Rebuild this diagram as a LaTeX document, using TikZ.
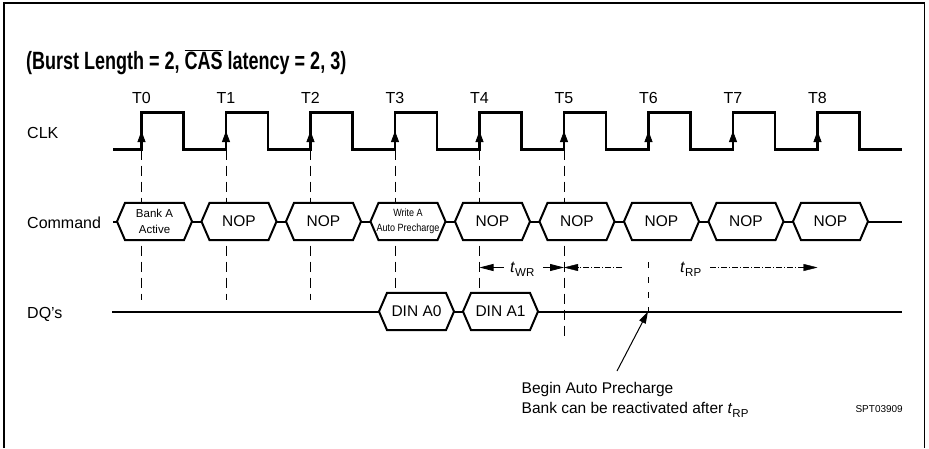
\documentclass[tikz,border=0pt]{standalone}
\usepackage{fontspec}
\setmainfont{Liberation Sans}
\newfontfamily\titlefont[FakeStretch=0.72]{Liberation Sans}
\newfontfamily\narrowfont[FakeStretch=0.86]{Liberation Sans}
\usetikzlibrary{arrows.meta}
\tikzset{
  sig/.style={line width=2.2pt, line join=miter},
  busline/.style={line width=2pt, line join=miter},
  guide/.style={line width=0.6pt, dash pattern=on 10pt off 6pt},
  dotguide/.style={line width=0.5pt, dash pattern=on 6pt off 9pt},
  edgearrow/.style={-{Triangle[length=11pt,width=8pt]}, line width=0.8pt},
  dim/.style={-{Triangle[length=14pt,width=7pt]}, line width=0.8pt},
  dimdash/.style={-{Triangle[length=14pt,width=7pt]}, line width=0.4pt, dash pattern=on 6pt off 2pt on 1pt off 2pt},
  lbl/.style={font=\fontsize{16}{19}\selectfont, inner sep=0pt, anchor=base west},
  ticklbl/.style={font=\fontsize{16}{19}\selectfont, inner sep=0pt, anchor=base},
  hextxt/.style={font=\fontsize{15.5}{18}\selectfont, inner sep=0pt, align=center},
  hexsmall/.style={font=\fontsize{11.5}{15.5}\selectfont, inner sep=0pt, align=center},
  hextiny/.style={font=\narrowfont\fontsize{10.5}{15.5}\selectfont, inner sep=0pt, align=center},
  notetxt/.style={font=\fontsize{15.5}{20}\selectfont, inner sep=0pt, anchor=base west},
  pics/busbox/.style 2 args={code={
    \draw[busline, fill=white] (-37.5,0) -- (-29.5,18.6) -- (29.5,18.6) -- (37.5,0)
      -- (29.5,-18.6) -- (-29.5,-18.6) -- cycle;
    \node[#1] (-t) at (0,0) {#2};
  }}
}
\newcommand\subtxt[1]{\raisebox{-4.5pt}{\fontsize{11.5}{12}\selectfont #1}}
\begin{document}
\begin{tikzpicture}[x=1pt,y=-1pt]
\useasboundingbox (0,0) rectangle (929,448);
% frame
\draw[line width=1.4pt] (4,448) -- (4,3) -- (924.5,3) -- (924.5,448);

% title
\node[inner sep=0pt, anchor=base west, font=\titlefont\bfseries\fontsize{25}{28}\selectfont] (title) at (26,69)
  {(Burst Length = 2, $\overline{\hbox{CAS}}$ latency = 2, 3)};

% signal labels
\node[lbl] (clklbl) at (27,138.3) {CLK};
\node[lbl] (cmdlbl) at (27,228.3) {Command};
\node[lbl] (dqlbl) at (27,318) {DQ’s};

% clock waveform
\draw[sig] (113,149.5)
  \foreach \k in {0,...,8}{
    -- ({141.5+84.5*\k},149.5) -- ({141.5+84.5*\k},112.5)
    -- ({183.5+84.5*\k},112.5) -- ({183.5+84.5*\k},149.5)
  } -- (902,149.5);

\foreach \k in {0,...,8}{
  \coordinate (e\k) at ({141.5+84.5*\k},149.5);
  \node[ticklbl] (T\k) at ({141.5+84.5*\k},103.3) {T\k};
  \draw[edgearrow] (e\k) -- ++(0,-18.5);
}

% dashed guides
\foreach \k/\yend in {0/300,1/300,2/300,3/300,4/300,5/336}{
  \draw[guide] (e\k) -- ++(0,{\yend-149.5});
}

% bus lines
\coordinate (cmdL) at (113,221.5);
\coordinate (cmdR) at (902,221.5);
\draw[busline] (cmdL) -- (cmdR);
\coordinate (dqL) at (112,311.5);
\coordinate (dqR) at (902,311.5);
\draw[busline] (dqL) -- (dqR);

% command boxes
\pic (c0) at (154.5,221.5) {busbox={hexsmall}{Bank A\\Active}};
\pic (c1) at (239,221.5) {busbox={hextxt}{NOP}};
\pic (c2) at (323.5,221.5) {busbox={hextxt}{NOP}};
\pic (c3) at (408,221.5) {busbox={hextiny}{Write A\\Auto Precharge}};
\foreach \k in {4,...,8}{
  \pic (c\k) at ({154.5+84.5*\k},221.5) {busbox={hextxt}{NOP}};
}

% data boxes
\pic (d0) at (416.5,311.5) {busbox={hextxt}{DIN A0}};
\pic (d1) at (500.5,311.5) {busbox={hextxt}{DIN A1}};

% tWR
\coordinate (wrA) at (e4 |- 0,267.5);
\coordinate (wrB) at (e5 |- 0,267.5);
\coordinate (wrL) at (503.5,267.5);
\coordinate (wrR) at (543,267.5);
\node[notetxt, font=\fontsize{16}{19}\selectfont] (twr) at (510,272) {\textit{t}\subtxt{WR}};
\draw[dim] (wrL) -- (wrA);
\draw[dim] (wrR) -- (wrB);

% tRP
\coordinate (rpL) at (622,267.5);
\coordinate (rpR) at (710,267.5);
\coordinate (rpEnd) at (e8 |- 0,267.5);
\node[notetxt, font=\fontsize{16}{19}\selectfont] (trp) at (680,272) {\textit{t}\subtxt{RP}};
\draw[dimdash] (rpL) -- (wrB);
\draw[dimdash] (rpR) -- (rpEnd);

% auto precharge marker
\coordinate (rpT) at (648,262);
\coordinate (prechg) at (648,311.5);
\draw[dotguide] (rpT) -- (prechg);
\coordinate (noteA) at (617,371);
\draw[-{Triangle[length=12pt,width=7pt]}, line width=1pt] (noteA) -- (prechg);

\node[notetxt] (note1) at (521.5,393.3) {Begin Auto Precharge};
\node[notetxt] (note2) at (521.5,413.3) {Bank can be reactivated after \textit{t}\subtxt{RP}};

\node[inner sep=0pt, anchor=base east, font=\fontsize{10}{12}\selectfont] (code) at (903,412) {SPT03909};
\end{tikzpicture}
\end{document}
